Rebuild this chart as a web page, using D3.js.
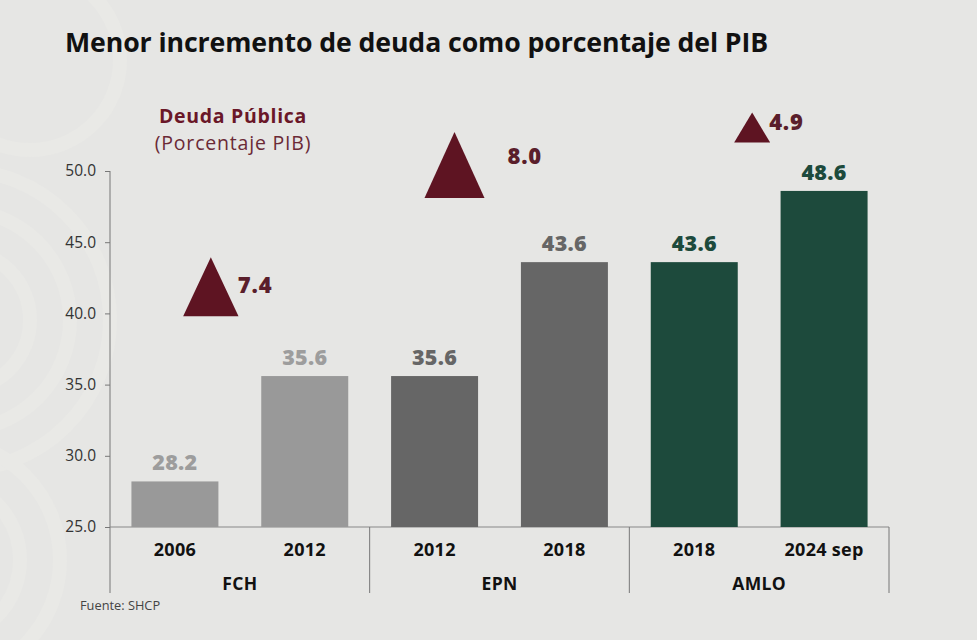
<!DOCTYPE html>
<html><head><meta charset="utf-8">
<script src="https://cdn.jsdelivr.net/npm/d3@7"></script>
<style>
html,body{margin:0;padding:0;background:#e6e6e4;}
svg{display:block;font-family:"Open Sans",sans-serif;}
</style></head>
<body><svg id="c" width="977" height="640"></svg>
<script>
const categories = ["2006","2012","2012","2018","2018","2024 sep"];
const groupOf = ["FCH","FCH","EPN","EPN","AMLO","AMLO"];
const groupNames = ["FCH","EPN","AMLO"];
const values = [28.2,35.6,35.6,43.6,43.6,48.6];
const increments = [7.4,8.0,4.9];
const yTicks = [25,30,35,40,45,50];

(function(){
const barColor = {FCH:"#999999", EPN:"#666666", AMLO:"#1d4a3c"};
const labelColor = {FCH:"#9d9d9d", EPN:"#666666", AMLO:"#1d4a3c"};
const maroon = "#5e1422";

const svg = d3.select("#c");
svg.append("rect").attr("width",977).attr("height",640).attr("fill","#e6e6e4");
const orn = svg.append("g").attr("fill","none").attr("stroke","#e9e9e6").attr("stroke-width",14);
[[-40,320,150],[-40,320,110],[-40,320,70],[-60,560,120],[-60,560,80],[30,60,90]].forEach(([cx,cy,r])=>{
  orn.append("circle").attr("cx",cx).attr("cy",cy).attr("r",r);
});

const pL=110, pR=889, pT=171, pB=527;
const x = d3.scaleBand().domain(d3.range(categories.length)).range([pL,pR]).paddingInner(0.33).paddingOuter(0.165);
const y = d3.scaleLinear().domain([25,50]).range([pB,pT]);
const gx = d3.scaleBand().domain(groupNames).range([pL,pR]);

svg.append("text").attr("x",65).attr("y",52).attr("font-size",26.7).attr("font-weight",700)
  .attr("fill","#111").attr("letter-spacing","-0.1")
  .text("Menor incremento de deuda como porcentaje del PIB");

svg.append("text").attr("x",233).attr("y",123).attr("text-anchor","middle").attr("font-size",19.5)
  .attr("font-weight",700).attr("fill","#6a1728").attr("letter-spacing","0.7").text("Deuda Pública");
svg.append("text").attr("x",233).attr("y",150).attr("text-anchor","middle").attr("font-size",19.5)
  .attr("fill","#6b2a36").attr("letter-spacing","0.8").text("(Porcentaje PIB)");

const yAxis = d3.axisLeft(y).tickValues(yTicks).tickFormat(d3.format(".1f")).tickSize(5).tickPadding(9);
const ga = svg.append("g").attr("transform",`translate(${pL},0)`).call(yAxis);
ga.select(".domain").remove();
ga.selectAll(".tick line").attr("stroke","#777");
ga.selectAll(".tick text").attr("font-size",15.5).attr("fill","#333").attr("font-family","Open Sans, sans-serif");

const axisBottom = 593;
svg.append("line").attr("x1",pL).attr("x2",pL).attr("y1",pT).attr("y2",axisBottom).attr("stroke","#777");
svg.append("line").attr("x1",pL).attr("x2",pR).attr("y1",pB).attr("y2",pB).attr("stroke","#888");
groupNames.forEach(g=>{
  const xe = gx(g)+gx.bandwidth();
  svg.append("line").attr("x1",xe).attr("x2",xe).attr("y1",pB).attr("y2",axisBottom).attr("stroke","#777");
});

svg.append("g").selectAll("rect").data(values).join("rect")
  .attr("x",(d,i)=>x(i)).attr("width",x.bandwidth())
  .attr("y",d=>y(d)).attr("height",d=>y(25)-y(d))
  .attr("fill",(d,i)=>barColor[groupOf[i]]);

svg.append("g").selectAll("text").data(values).join("text")
  .attr("x",(d,i)=>x(i)+x.bandwidth()/2).attr("y",d=>y(d)-11)
  .attr("text-anchor","middle").attr("font-size",21.5).attr("font-weight",800).attr("letter-spacing","0.3")
  .attr("fill",(d,i)=>labelColor[groupOf[i]]).text(d=>d3.format(".1f")(d));

svg.append("g").selectAll("text").data(categories).join("text")
  .attr("x",(d,i)=>x(i)+x.bandwidth()/2).attr("y",556)
  .attr("text-anchor","middle").attr("font-size",18).attr("font-weight",700).attr("letter-spacing","0.3").attr("fill","#111").text(d=>d);

svg.append("g").selectAll("text").data(groupNames).join("text")
  .attr("x",d=>gx(d)+gx.bandwidth()/2).attr("y",590)
  .attr("text-anchor","middle").attr("font-size",17.5).attr("font-weight",700).attr("letter-spacing","0.3").attr("fill","#111").text(d=>d);

const hScale = d3.scaleLinear().domain([4.9,8.0]).range([30,66]);
const wScale = d3.scaleLinear().domain([4.9,8.0]).range([36,60]);
const lastVal = groupNames.map(g=>values[groupOf.lastIndexOf(g)]);
const triDx = [-29,-45,-7];
const triLift = [4.2,4.5,3.4];
const labDx = [27,53,17];
const labDy = [-23,-34,-13];
increments.forEach((v,i)=>{
  const cx = gx(groupNames[i])+gx.bandwidth()/2+triDx[i];
  const by = y(lastVal[i]+triLift[i]);
  const h = hScale(v), w = wScale(v);
  svg.append("path").attr("d",`M${cx-w/2},${by}L${cx},${by-h}L${cx+w/2},${by}Z`).attr("fill",maroon);
  svg.append("text").attr("x",cx+labDx[i]).attr("y",by+labDy[i])
    .attr("font-size",22).attr("font-weight",800).attr("letter-spacing","0.8").attr("fill","#5a1e2b").text(d3.format(".1f")(v));
});

svg.append("text").attr("x",80).attr("y",610).attr("font-size",12.8).attr("fill","#444").text("Fuente: SHCP");
})();
</script></body></html>
